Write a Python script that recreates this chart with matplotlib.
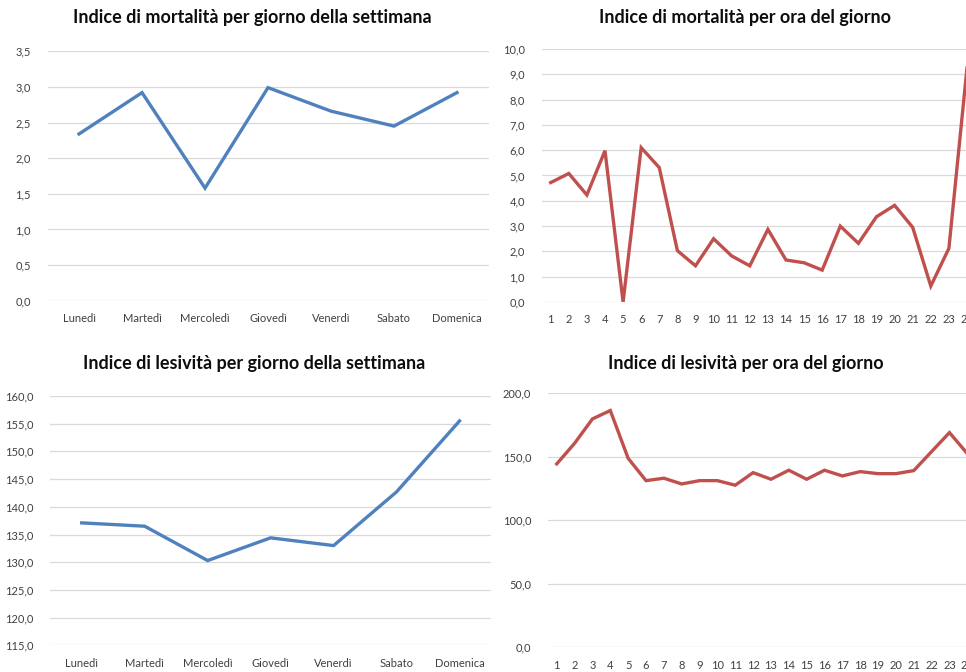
import matplotlib
matplotlib.use("Agg")
import matplotlib.pyplot as plt
from matplotlib.ticker import FuncFormatter, MultipleLocator

plt.rcParams['font.family'] = ['Lato', 'DejaVu Sans']

giorni = ["Lunedì", "Martedì", "Mercoledì", "Giovedì", "Venerdì", "Sabato", "Domenica"]
ore = [str(h) for h in range(1, 25)]

mortalita_giorno = [2.34, 2.92, 1.58, 2.99, 2.66, 2.45, 2.92]
mortalita_ora = [4.72, 5.08, 4.23, 5.98, 0.0, 6.1, 5.31, 2.03, 1.43, 2.5, 1.82, 1.43,
                 2.87, 1.66, 1.55, 1.26, 3.0, 2.32, 3.37, 3.82, 2.95, 0.63, 2.12, 9.25]
lesivita_giorno = [137.1, 136.5, 130.3, 134.4, 133.0, 142.7, 155.5]
lesivita_ora = [144.4, 160.6, 179.8, 186.4, 148.8, 131.2, 133.1, 128.6, 131.2, 131.2, 127.6, 137.5,
                132.3, 139.4, 132.3, 139.4, 134.9, 138.3, 136.7, 136.7, 139.1, 154.1, 169.0, 152.5]

BLU = "#4f81bd"
ROSSO = "#c0504d"

virgola = FuncFormatter(lambda v, p: f"{v:.1f}".replace(".", ","))

fig = plt.figure(figsize=(9.66, 6.72), dpi=100)


def pannello(rect, etichette, valori, colore, ymin, ymax, passo, fs_x):
    ax = fig.add_axes(rect)
    x = list(range(len(valori)))
    ax.plot(x, valori, color=colore, lw=2.4, solid_joinstyle="miter")
    ax.set_xlim(-0.5, len(valori) - 0.5)
    ax.set_ylim(ymin, ymax)
    ax.set_xticks(x)
    ax.set_xticklabels(etichette)
    ax.yaxis.set_major_locator(MultipleLocator(passo))
    ax.yaxis.set_major_formatter(virgola)
    ax.grid(axis="y", color="#d9d9d9", lw=0.9)
    ax.set_axisbelow(True)
    for s in ax.spines.values():
        s.set_visible(False)
    ax.tick_params(length=0, colors="#404040")
    ax.tick_params(axis="y", labelsize=8, pad=12)
    ax.tick_params(axis="x", labelsize=fs_x, pad=9)
    return ax


pannello([0.0492, 0.5525, 0.4565, 0.3712], giorni, mortalita_giorno, BLU, 0, 3.5, 0.5, 8)
pannello([0.5607, 0.5506, 0.4497, 0.3765], ore, mortalita_ora, ROSSO, 0, 10, 1, 8)
pannello([0.0520, 0.0397, 0.4563, 0.3710], giorni, lesivita_giorno, BLU, 115, 160, 5, 8)
pannello([0.5671, 0.0368, 0.4435, 0.3780], ore, lesivita_ora, ROSSO, 0, 200, 50, 8)

titoli = [
    (252 / 966, 1 - 18 / 672, "Indice di mortalità per giorno della settimana"),
    (745 / 966, 1 - 18 / 672, "Indice di mortalità per ora del giorno"),
    (254 / 966, 1 - 363 / 672, "Indice di lesività per giorno della settimana"),
    (745.5 / 966, 1 - 363 / 672, "Indice di lesività per ora del giorno"),
]
for tx, ty, t in titoli:
    fig.text(tx, ty, t, ha="center", va="center", fontsize=13, fontweight="bold", color="#0d0d0d")

fig.savefig("out.png", dpi=100)
